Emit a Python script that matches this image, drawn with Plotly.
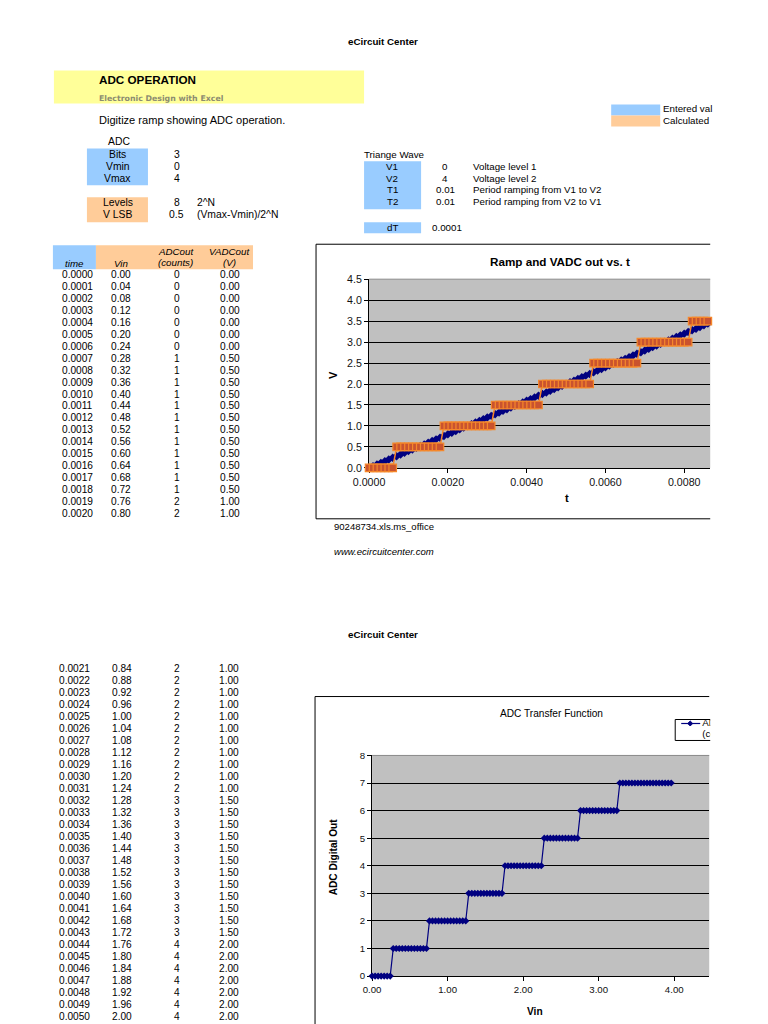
import plotly.graph_objects as go

# ---------------- data (read from the sheet) ----------------
TIME = [0.0000, 0.0001, 0.0002, 0.0003, 0.0004, 0.0005, 0.0006, 0.0007, 0.0008, 0.0009,
        0.0010, 0.0011, 0.0012, 0.0013, 0.0014, 0.0015, 0.0016, 0.0017, 0.0018, 0.0019,
        0.0020, 0.0021, 0.0022, 0.0023, 0.0024, 0.0025, 0.0026, 0.0027, 0.0028, 0.0029,
        0.0030, 0.0031, 0.0032, 0.0033, 0.0034, 0.0035, 0.0036, 0.0037, 0.0038, 0.0039,
        0.0040, 0.0041, 0.0042, 0.0043, 0.0044, 0.0045, 0.0046, 0.0047, 0.0048, 0.0049,
        0.0050, 0.0051, 0.0052, 0.0053, 0.0054, 0.0055, 0.0056, 0.0057, 0.0058, 0.0059,
        0.0060, 0.0061, 0.0062, 0.0063, 0.0064, 0.0065, 0.0066, 0.0067, 0.0068, 0.0069,
        0.0070, 0.0071, 0.0072, 0.0073, 0.0074, 0.0075, 0.0076, 0.0077, 0.0078, 0.0079,
        0.0080, 0.0081, 0.0082, 0.0083, 0.0084, 0.0085, 0.0086, 0.0087, 0.0088, 0.0089,
        0.0090, 0.0091, 0.0092, 0.0093, 0.0094, 0.0095, 0.0096, 0.0097, 0.0098, 0.0099]

VIN = [0.00, 0.04, 0.08, 0.12, 0.16, 0.20, 0.24, 0.28, 0.32, 0.36,
       0.40, 0.44, 0.48, 0.52, 0.56, 0.60, 0.64, 0.68, 0.72, 0.76,
       0.80, 0.84, 0.88, 0.92, 0.96, 1.00, 1.04, 1.08, 1.12, 1.16,
       1.20, 1.24, 1.28, 1.32, 1.36, 1.40, 1.44, 1.48, 1.52, 1.56,
       1.60, 1.64, 1.68, 1.72, 1.76, 1.80, 1.84, 1.88, 1.92, 1.96,
       2.00, 2.04, 2.08, 2.12, 2.16, 2.20, 2.24, 2.28, 2.32, 2.36,
       2.40, 2.44, 2.48, 2.52, 2.56, 2.60, 2.64, 2.68, 2.72, 2.76,
       2.80, 2.84, 2.88, 2.92, 2.96, 3.00, 3.04, 3.08, 3.12, 3.16,
       3.20, 3.24, 3.28, 3.32, 3.36, 3.40, 3.44, 3.48, 3.52, 3.56,
       3.60, 3.64, 3.68, 3.72, 3.76, 3.80, 3.84, 3.88, 3.92, 3.96]

ADC_COUNTS = [0, 0, 0, 0, 0, 0, 0, 1, 1, 1,
              1, 1, 1, 1, 1, 1, 1, 1, 1, 2,
              2, 2, 2, 2, 2, 2, 2, 2, 2, 2,
              2, 2, 3, 3, 3, 3, 3, 3, 3, 3,
              3, 3, 3, 3, 4, 4, 4, 4, 4, 4,
              4, 4, 4, 4, 4, 4, 4, 5, 5, 5,
              5, 5, 5, 5, 5, 5, 5, 5, 5, 6,
              6, 6, 6, 6, 6, 6, 6, 6, 6, 6,
              6, 6, 7, 7, 7, 7, 7, 7, 7, 7,
              7, 7, 7, 7, 7, 7, 7, 7, 7, 7]

VADC = [0.0, 0.0, 0.0, 0.0, 0.0, 0.0, 0.0, 0.5, 0.5, 0.5,
        0.5, 0.5, 0.5, 0.5, 0.5, 0.5, 0.5, 0.5, 0.5, 1.0,
        1.0, 1.0, 1.0, 1.0, 1.0, 1.0, 1.0, 1.0, 1.0, 1.0,
        1.0, 1.0, 1.5, 1.5, 1.5, 1.5, 1.5, 1.5, 1.5, 1.5,
        1.5, 1.5, 1.5, 1.5, 2.0, 2.0, 2.0, 2.0, 2.0, 2.0,
        2.0, 2.0, 2.0, 2.0, 2.0, 2.0, 2.0, 2.5, 2.5, 2.5,
        2.5, 2.5, 2.5, 2.5, 2.5, 2.5, 2.5, 2.5, 2.5, 3.0,
        3.0, 3.0, 3.0, 3.0, 3.0, 3.0, 3.0, 3.0, 3.0, 3.0,
        3.0, 3.0, 3.5, 3.5, 3.5, 3.5, 3.5, 3.5, 3.5, 3.5,
        3.5, 3.5, 3.5, 3.5, 3.5, 3.5, 3.5, 3.5, 3.5, 3.5]

ADC_PARAMS = [("Bits", "3"), ("Vmin", "0"), ("Vmax", "4")]
CALC_PARAMS = [("Levels", "8", "2^N"), ("V LSB", "0.5", "(Vmax-Vmin)/2^N")]
WAVE_PARAMS = [("V1", "0", "Voltage level 1"), ("V2", "4", "Voltage level 2"),
               ("T1", "0.01", "Period ramping from V1 to V2"),
               ("T2", "0.01", "Period ramping from V2 to V1")]
DT = "0.0001"

# ---------------- page helpers ----------------
W, H = 768, 1024
# measured mapping between page pixels and the photographed picture
AX, BX = 0.9787, 16.1
AY, BY = 0.9898, 5.4
FSC = 1.0 / 0.985          # font scale to undo the photo shrink
FONT = "Liberation Sans, Arial, sans-serif"
NAVY = "#000080"
OR_LINE = "#f5872a"
OR_FILL = "#c9532f"
BLUE = "#99ccff"
ORANGE = "#ffcc99"
GRAY = "#c0c0c0"


def px(x):
    return ((x - BX) / AX) / W


def py(y):
    return 1 - ((y - BY) / AY) / H


def fs(s):
    return round(s * FSC, 2)


anns = []
shapes = []


def txt(x, y, s, size=9.6, bold=False, italic=False, anchor="left",
        color="black", family=FONT, angle=0):
    if bold:
        s = "<b>" + s + "</b>"
    if italic:
        s = "<i>" + s + "</i>"
    anns.append(dict(x=px(x), y=py(y), xref="paper", yref="paper", text=s,
                     showarrow=False, xanchor=anchor, yanchor="middle",
                     textangle=angle, borderpad=0,
                     font=dict(size=fs(size), family=family, color=color)))


def rect(x0, y0, x1, y1, fill, layer="below"):
    shapes.append(dict(type="rect", xref="paper", yref="paper",
                       x0=px(x0), x1=px(x1), y0=py(y0), y1=py(y1),
                       fillcolor=fill, line=dict(width=0), layer=layer))


def line(x0, y0, x1, y1, color="black", width=1, layer="above"):
    shapes.append(dict(type="line", xref="paper", yref="paper",
                       x0=px(x0), x1=px(x1), y0=py(y0), y1=py(y1),
                       line=dict(color=color, width=width), layer=layer))


LS = 10.2   # left-block cell text
TS = 10.0   # table digits

# ---------------- page text: top sheet ----------------
txt(383, 41, "eCircuit Center", size=9.6, bold=True, anchor="center")
rect(54, 70, 364, 103, "#ffff99")
txt(98, 79, "ADC OPERATION", size=11.5, bold=True)
txt(98, 98, "Electronic Design with Excel", size=7.7, bold=True,
    color="#8c8c70", family="DejaVu Sans, Verdana, sans-serif")
txt(98, 120, "Digitize ramp showing ADC operation.", size=10.9)

txt(119, 141, "ADC", anchor="center", size=LS)
rect(87, 148, 148, 185, BLUE)
for i, (lab, val) in enumerate(ADC_PARAMS):
    yy = 154 + 12 * i
    txt(118, yy, lab, anchor="center", size=LS)
    txt(177, yy, val, anchor="center", size=LS)
rect(87, 197, 148, 222, ORANGE)
for i, (lab, val, note) in enumerate(CALC_PARAMS):
    yy = 202 + 12 * i
    txt(118, yy, lab, anchor="center", size=LS)
    txt(177, yy, val, anchor="center", size=LS)
    txt(196, yy, note, size=LS)

txt(363, 154, "Triange Wave")
rect(364, 161, 421, 209, BLUE)
for i, (lab, val, note) in enumerate(WAVE_PARAMS):
    yy = 166 + 11.7 * i
    txt(392, yy, lab, anchor="center")
    txt(445, yy, val, anchor="center")
    txt(472, yy, note)
rect(364, 222, 421, 233, BLUE)
txt(392, 227, "dT", anchor="center")
txt(431, 227, DT)

rect(611, 104, 660, 115, BLUE)
rect(611, 115, 660, 126, ORANGE)
txt(662, 108, "Entered val")
txt(662, 120, "Calculated")

# table header
rect(53, 245, 96, 269, BLUE)
rect(96, 245, 253, 269, ORANGE)
txt(75, 263, "time", italic=True, anchor="center")
txt(121, 263, "Vin", italic=True, anchor="center")
txt(176, 251, "ADCout", italic=True, anchor="center")
txt(176, 262, "(counts)", italic=True, anchor="center")
txt(229, 251, "VADCout", italic=True, anchor="center")
txt(229, 262, "(V)", italic=True, anchor="center")

for i in range(0, 21):
    yy = 274 + 12 * i
    txt(78, yy, "%.4f" % TIME[i], size=TS, anchor="center")
    txt(121, yy, "%.2f" % VIN[i], size=TS, anchor="center")
    txt(177, yy, "%d" % ADC_COUNTS[i], size=TS, anchor="center")
    txt(230, yy, "%.2f" % VADC[i], size=TS, anchor="center")

txt(333, 527, "90248734.xls.ms_office", size=9.4)
txt(333, 552, "www.ecircuitcenter.com", size=9.4, italic=True)

# ---------------- second sheet ----------------
txt(383, 635, "eCircuit Center", size=9.6, bold=True, anchor="center")
for i in range(21, 51):
    yy = 669 + 12 * (i - 21)
    txt(75, yy, "%.4f" % TIME[i], size=TS, anchor="center")
    txt(122, yy, "%.2f" % VIN[i], size=TS, anchor="center")
    txt(177, yy, "%d" % ADC_COUNTS[i], size=TS, anchor="center")
    txt(229, yy, "%.2f" % VADC[i], size=TS, anchor="center")

# ---------------- chart 1 : Ramp and VADC out vs. t ----------------
C1_L, C1_R, C1_T, C1_B = 369, 710, 279, 468
T_MAX = (C1_R - C1_L) / 39.375 / 1000.0
line(316, 244, 710, 244)
line(316, 244, 316, 519)
line(316, 519, 710, 519)
rect(C1_L, C1_T, C1_R, C1_B, GRAY)
txt(560, 261, "Ramp and VADC out vs. t", size=11.5, bold=True, anchor="center")
txt(333, 375, "V", size=11, bold=True, anchor="center", angle=-90)
txt(567, 498, "t", size=11, bold=True, anchor="center")

vis = [i for i, t in enumerate(TIME) if t <= T_MAX]
fig = go.Figure()
fig.add_trace(go.Scatter(
    x=[TIME[i] for i in vis], y=[VIN[i] for i in vis], xaxis="x", yaxis="y",
    mode="lines+markers", line=dict(color=NAVY, width=1),
    marker=dict(symbol="diamond", size=6.5, color=NAVY),
    cliponaxis=False, showlegend=False, name="Vin"))
fig.add_trace(go.Scatter(
    x=[TIME[i] for i in vis], y=[VADC[i] for i in vis], xaxis="x", yaxis="y",
    mode="lines+markers", line=dict(color=OR_LINE, width=1.5),
    marker=dict(symbol="square", size=7.5, color=OR_FILL,
                line=dict(color=OR_LINE, width=1.2)),
    cliponaxis=False, showlegend=False, name="VADCout"))
line(C1_L, C1_T, C1_R, C1_T, color="#8a8a8a")

# ---------------- chart 2 : ADC Transfer Function ----------------
C2_L, C2_R, C2_T, C2_B = 372, 709, 756, 977
V_MAX = (C2_R - C2_L) / 75.5
line(315, 697, 709, 697)
line(315, 697, 315, 1040)
rect(C2_L, C2_T, C2_R, C2_B, GRAY)
txt(551, 714, "ADC Transfer Function", size=10, anchor="center")
txt(333, 858, "ADC Digital Out", size=10, bold=True, anchor="center", angle=-90)
txt(535, 1012, "Vin", size=10, bold=True, anchor="center")

fig.add_trace(go.Scatter(
    x=VIN, y=ADC_COUNTS, xaxis="x2", yaxis="y2",
    mode="lines+markers", line=dict(color=NAVY, width=1.2),
    marker=dict(symbol="diamond", size=5.5, color=NAVY),
    cliponaxis=False, showlegend=False, name="ADCout (counts)"))
line(C2_L, C2_T, C2_R, C2_T, color="#8a8a8a")

# legend (cut off at the page edge)
line(675, 720, 710, 720)
line(675, 720, 675, 741)
line(675, 741, 710, 741)
line(681, 724, 700, 724, color=NAVY, width=1.2)
shapes.append(dict(type="path", xref="paper", yref="paper",
                   path="M %f %f L %f %f L %f %f L %f %f Z" % (
                       px(690), py(721.5), px(692.5), py(724),
                       px(690), py(726.5), px(687.5), py(724)),
                   fillcolor=NAVY, line=dict(color=NAVY, width=1)))
fig.add_trace(go.Scatter(
    x=[702, 702], y=[724, 735], xaxis="x3", yaxis="y3", mode="text",
    text=["ADCout", "(counts)"], textposition="middle right",
    textfont=dict(size=fs(9.6), family=FONT, color="black"),
    cliponaxis=True, showlegend=False, hoverinfo="skip"))

tick_common = dict(showgrid=False, zeroline=False, showline=True,
                   linecolor="black", linewidth=1, ticks="outside",
                   ticklen=4, tickcolor="black", layer="below traces")

fig.update_layout(
    width=W, height=H, margin=dict(l=0, r=0, t=0, b=0),
    paper_bgcolor="white", plot_bgcolor="rgba(0,0,0,0)",
    showlegend=False,
    xaxis=dict(domain=[px(C1_L), px(C1_R)], range=[0, T_MAX], anchor="y",
               tick0=0, dtick=0.002, tickformat=".4f",
               tickfont=dict(size=fs(10.5), family=FONT, color="#111"),
               **tick_common),
    yaxis=dict(domain=[py(C1_B), py(C1_T)], range=[0, 4.5], anchor="x",
               tick0=0, dtick=0.5, tickformat=".1f",
               tickfont=dict(size=fs(10.5), family=FONT, color="#111"),
               **{**tick_common, "showgrid": True},
               gridcolor="black", gridwidth=1),
    xaxis2=dict(domain=[px(C2_L), px(C2_R)], range=[0, V_MAX], anchor="y2",
                tick0=0, dtick=1, tickformat=".2f",
                tickfont=dict(size=fs(9.5), family=FONT, color="#111"),
                **tick_common),
    yaxis2=dict(domain=[py(C2_B), py(C2_T)], range=[0, 8], anchor="x2",
                tick0=0, dtick=1, tickformat="d",
                tickfont=dict(size=fs(9.5), family=FONT, color="#111"),
                **{**tick_common, "showgrid": True},
                gridcolor="black", gridwidth=1),
    xaxis3=dict(domain=[px(600), px(710)], range=[600, 710], anchor="y3",
                visible=False, fixedrange=True),
    yaxis3=dict(domain=[py(745), py(715)], range=[745, 715], anchor="x3",
                visible=False, fixedrange=True),
    annotations=anns, shapes=shapes,
)

POST = ("document.documentElement.style.margin='0';"
        "document.body.style.margin='0';"
        "document.body.style.overflow='hidden';")

fig.write_html("out.html", config={"displayModeBar": False},
               post_script=POST)
